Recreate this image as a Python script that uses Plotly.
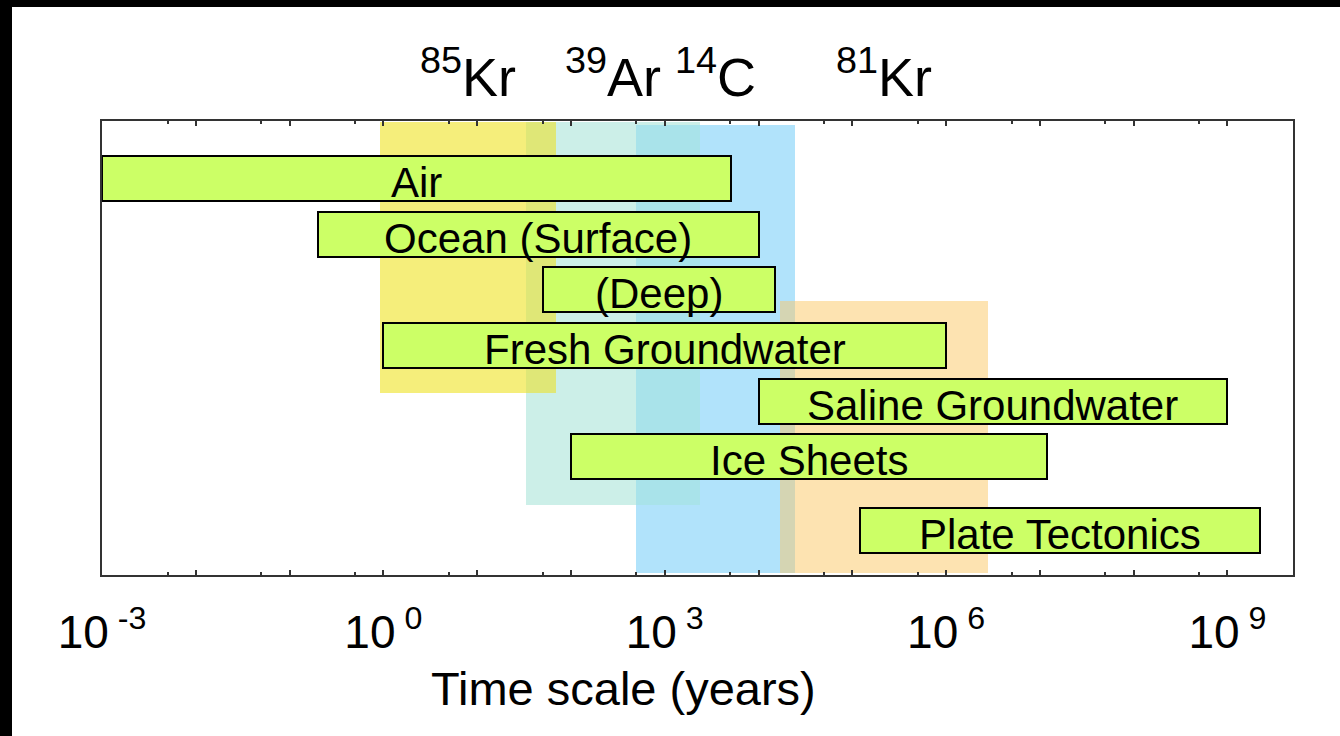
import math
import plotly.graph_objects as go

# ---------------- data ----------------
reservoirs = ["Air", "Ocean (Surface)", "(Deep)", "Fresh Groundwater",
              "Saline Groundwater", "Ice Sheets", "Plate Tectonics"]
res_start = [1e-3, 0.2, 50, 1, 1e4, 100, 1.2e5]          # years
res_end = [5.1e3, 1.0e4, 1.5e4, 1e6, 1e9, 1.2e7, 2.25e9]  # years
res_row = [1, 2, 3, 4, 5, 6, 7.32]

isotopes = ["<sup>85</sup>Kr", "<sup>39</sup>Ar", "<sup>14</sup>C", "<sup>81</sup>Kr"]
iso_start = [0.93, 33, 490, 1.7e4]          # years
iso_end = [70, 2400, 2.45e4, 2.8e6]         # years
iso_row_top = [-0.02, -0.02, 0.04, 3.21]
iso_row_bottom = [4.85, 6.86, 8.08, 8.08]
iso_colors = ["#F5EE7B", "#CCEFE8", "#B1E3FB", "#FDE3B1"]
overlap_colors = ["#DFE777", "#A9E3EA", "#D5D5B3"]

tick_exponents = list(range(-3, 10))
label_exponents = [-3, 0, 3, 6, 9]
x_max = 5e9

# ---------------- figure ----------------
fig = go.Figure()


def add_rect(x0, x1, y0, y1, color, line_color=None, line_width=0):
    fig.add_trace(go.Bar(
        orientation="h",
        base=[x0], x=[x1 - x0], y=[(y0 + y1) / 2], width=[y1 - y0],
        marker=dict(color=color,
                    line=dict(color=line_color or color, width=line_width)),
        hoverinfo="skip", showlegend=False,
    ))


# isotope bands
for s, e, t, b, c in zip(iso_start, iso_end, iso_row_top, iso_row_bottom, iso_colors):
    add_rect(s, e, t, b, c)

# overlaps of neighbouring bands
for i in range(len(iso_start) - 1):
    s = max(iso_start[i], iso_start[i + 1])
    e = min(iso_end[i], iso_end[i + 1])
    t = max(iso_row_top[i], iso_row_top[i + 1])
    b = min(iso_row_bottom[i], iso_row_bottom[i + 1])
    if e > s and b > t:
        add_rect(s, e, t, b, overlap_colors[i])

# reservoir bars
bar_h = 0.81
for s, e, r in zip(res_start, res_end, res_row):
    add_rect(s, e, r - bar_h / 2, r + bar_h / 2, "#CCFF66", "#000000", 2)

FONT = "Liberation Sans, Arial"
annotations = []
for name, s, e, r in zip(reservoirs, res_start, res_end, res_row):
    annotations.append(dict(
        x=(math.log10(s) + math.log10(e)) / 2, y=r, xref="x", yref="y",
        text=name, showarrow=False, yshift=-4,
        font=dict(family=FONT, size=42, color="#000000"),
    ))

for name, s, e in zip(isotopes, iso_start, iso_end):
    annotations.append(dict(
        x=(math.log10(s) + math.log10(e)) / 2, y=1.0, xref="x", yref="paper",
        yanchor="bottom", yshift=12,
        text=name, showarrow=False,
        font=dict(family=FONT, size=54, color="#000000"),
    ))

annotations.append(dict(
    x=0.4375, y=-0.25, xref="paper", yref="paper", yanchor="middle",
    text="Time scale (years)", showarrow=False,
    font=dict(family=FONT, size=47, color="#000000"),
))

L, R, T, B = 102, 47, 121, 161
W, H = 1340, 736
pw, ph = W - L - R, H - T - B

shapes = [
    dict(type="rect", xref="paper", yref="paper",
         x0=-L / pw, x1=-(L - 12) / pw, y0=-B / ph, y1=1 + T / ph,
         fillcolor="#000000", line=dict(width=0)),
    dict(type="rect", xref="paper", yref="paper",
         x0=-L / pw, x1=1 + R / pw, y0=1 + (T - 7) / ph, y1=1 + T / ph,
         fillcolor="#000000", line=dict(width=0)),
]

tickvals = [10.0 ** k for k in tick_exponents]
ticktext = [f"10<sup> {k}</sup>" if k in label_exponents else "" for k in tick_exponents]
minorvals = [5 * 10.0 ** k for k in tick_exponents]

fig.update_layout(
    width=W, height=H,
    margin=dict(l=L, r=R, t=T, b=B),
    paper_bgcolor="#FFFFFF", plot_bgcolor="#FFFFFF",
    barmode="overlay", bargap=0,
    showlegend=False,
    annotations=annotations,
    shapes=shapes,
    xaxis=dict(
        type="log", range=[-3, math.log10(x_max)], autorange=False,
        tickmode="array", tickvals=tickvals, ticktext=ticktext,
        ticks="inside", ticklen=5, tickwidth=1.5, tickcolor="#333333",
        showline=True, linecolor="#333333", linewidth=2, mirror="ticks",
        showgrid=False, zeroline=False, ticklabelstandoff=16,
        tickfont=dict(family=FONT, size=46, color="#000000"),
        minor=dict(tickmode="array", tickvals=minorvals, ticks="inside",
                   ticklen=3, tickwidth=1.5, tickcolor="#333333", showgrid=False),
    ),
    yaxis=dict(
        range=[8.12, -0.03], autorange=False,
        showticklabels=False, ticks="", showgrid=False, zeroline=False,
        showline=True, linecolor="#333333", linewidth=2, mirror=True,
    ),
)

fig.write_html("out.html", config={"displayModeBar": False},
               post_script="document.body.style.margin='0';document.body.style.padding='0';")
